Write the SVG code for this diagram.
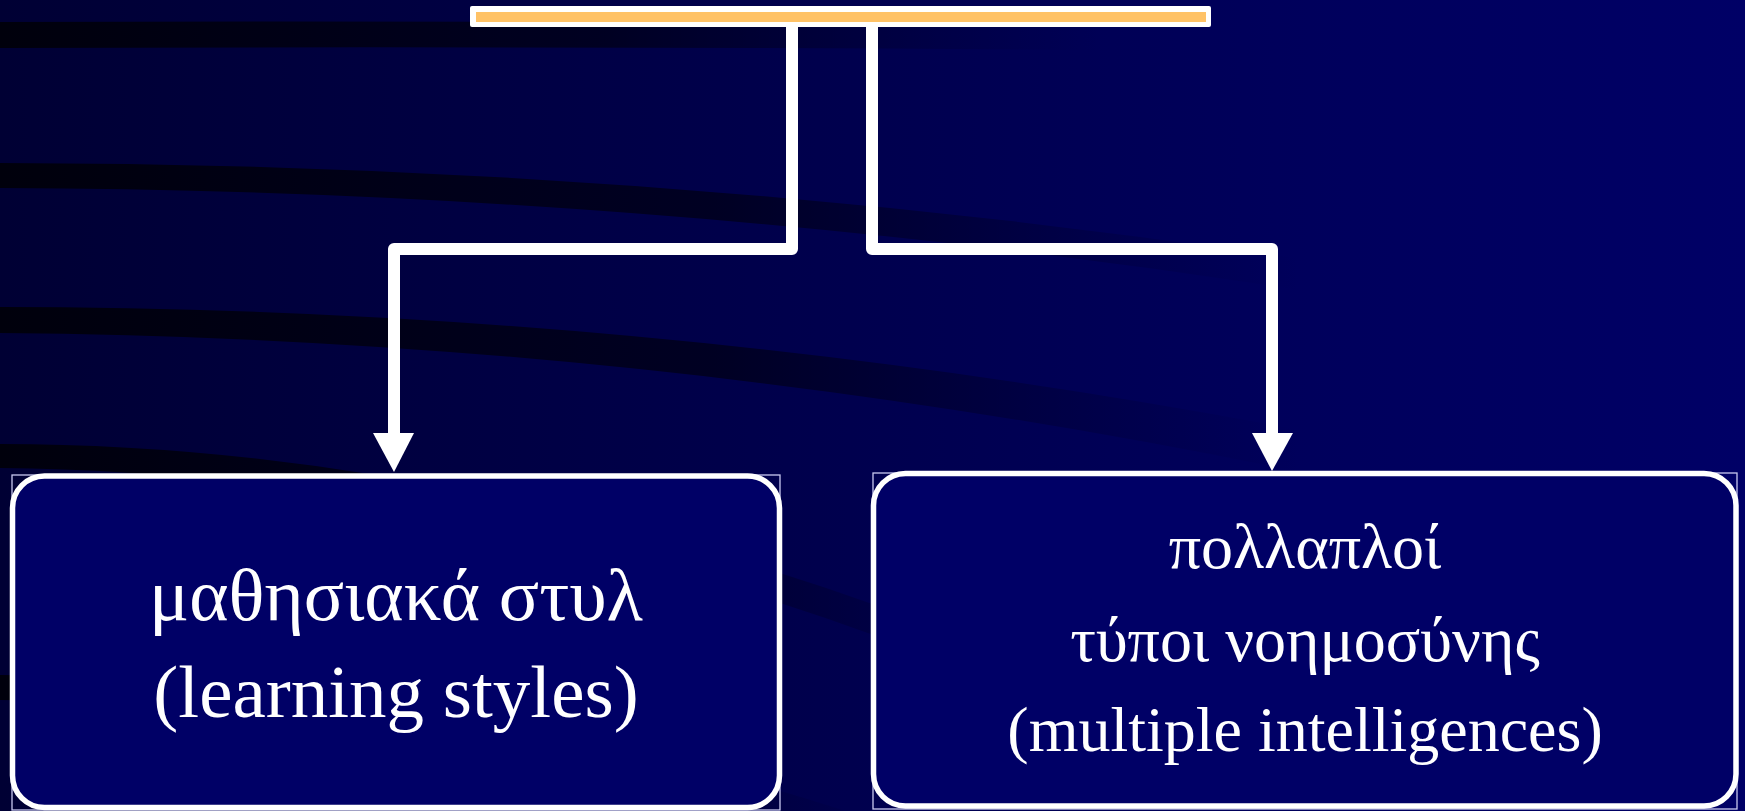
<svg xmlns="http://www.w3.org/2000/svg" width="1745" height="811" viewBox="0 0 1745 811">
  <defs>
    <linearGradient id="bg" x1="0" y1="0" x2="1745" y2="0" gradientUnits="userSpaceOnUse">
      <stop offset="0" stop-color="#000034"/>
      <stop offset="0.45" stop-color="#00004c"/>
      <stop offset="0.75" stop-color="#00005c"/>
      <stop offset="1" stop-color="#000066"/>
    </linearGradient>
    <linearGradient id="band" x1="0" y1="0" x2="1" y2="0">
      <stop offset="0" stop-color="#00000c" stop-opacity="1"/>
      <stop offset="0.55" stop-color="#000016" stop-opacity="0.75"/>
      <stop offset="1" stop-color="#000030" stop-opacity="0"/>
    </linearGradient>
    <style>
      .band { fill: url(#band); }
      .conn { fill: none; stroke: #ffffff; stroke-width: 12; stroke-linejoin: round; }
      .head { fill: #ffffff; }
      .frame { fill: none; stroke: #c8c8f0; stroke-width: 1.3; }
      .box { fill: #000066; stroke: #ffffff; stroke-width: 5.5; }
      .lbl { font-family: "Liberation Serif", "Times New Roman", serif; fill: #ffffff; text-anchor: middle; }
    </style>
  </defs>

  <!-- background -->
  <rect x="0" y="0" width="1745" height="811" fill="url(#bg)"/>
  <path class="band" d="M0,22 Q550,20 1100,26 L1100,50 Q550,46 0,48 Z"/>
  <path class="band" d="M0,163 Q650,163 1300,259 L1300,290 Q650,190 0,188 Z"/>
  <path class="band" d="M0,307 Q650,307 1300,430 L1300,472 Q650,338 0,333 Z"/>
  <path class="band" d="M0,444 Q500,444 1050,672 L1050,704 Q500,472 0,468 Z"/>
  <path class="band" d="M0,675 Q450,675 900,829 L900,860 Q450,700 0,700 Z"/>

  <!-- title bar -->
  <g id="title-bar">
    <rect x="470" y="6" width="741" height="21" rx="2" fill="#ffffff"/>
    <rect x="476" y="12" width="730" height="10" fill="#ffc266"/>
  </g>

  <!-- connectors -->
  <g id="connectors">
    <path class="conn" d="M792,27 V249 H394 V436"/>
    <polygon class="head" points="373,433 414,433 394,472"/>
    <path class="conn" d="M872,27 V249 H1272 V436"/>
    <polygon class="head" points="1252,433 1293,433 1272,471"/>
  </g>

  <!-- left node -->
  <g id="node-learning-styles">
    <rect class="frame" x="12" y="475" width="768" height="335"/>
    <rect class="box" x="12.5" y="476" width="767" height="331.5" rx="32"/>
    <text class="lbl" font-size="75" x="396" y="620">μαθησιακά στυλ</text>
    <text class="lbl" font-size="75" x="396" y="717">(learning styles)</text>
  </g>

  <!-- right node -->
  <g id="node-multiple-intelligences">
    <rect class="frame" x="873" y="473" width="864" height="336"/>
    <rect class="box" x="873.5" y="473.5" width="862.5" height="332.5" rx="32"/>
    <text class="lbl" font-size="64" x="1305" y="568">πολλαπλοί</text>
    <text class="lbl" font-size="64" x="1305" y="661">τύποι νοημοσύνης</text>
    <text class="lbl" font-size="64" x="1305" y="751">(multiple intelligences)</text>
  </g>
</svg>
